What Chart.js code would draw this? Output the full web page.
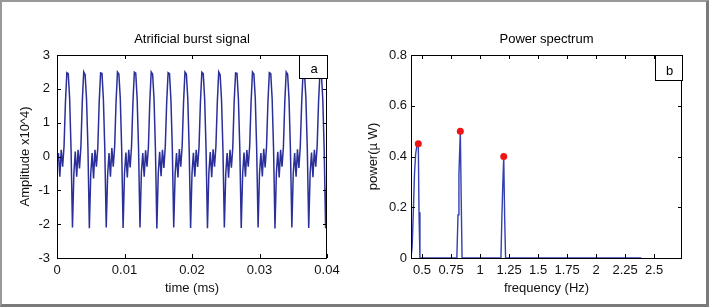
<!DOCTYPE html>
<html>
<head>
<meta charset="utf-8">
<script src="https://cdn.jsdelivr.net/npm/chart.js@4.4.0/dist/chart.umd.min.js"></script>
<style>
body { margin: 0; background: #fff; }
#frame { position: absolute; left: 0; top: 0; width: 709px; height: 307px; box-sizing: border-box;
  border-left: 2px solid #999; border-top: 2px solid #999; border-right: 3px solid #7a7a7a; border-bottom: 3px solid #7a7a7a; }
canvas { position: absolute; top: 0; }
#burst { left: 0; }
#spectrum { left: 355px; }
</style>
</head>
<body>
<div id="frame"></div>
<canvas id="burst" width="355" height="307"></canvas>
<canvas id="spectrum" width="354" height="307"></canvas>
<script>
// burst signal, 12 samples per 0.0025 ms period
var sampleStep = 0.0025 / 12;
var burstAmp = [
	-0.2, 0.1, -0.6, 0.2, -0.3, 0.3, 1.6, 2.48, 2.45, 1.7, 0.2, -2.1,
	-0.5, 0.15, -0.6, 0.2, -0.35, 0.3, 1.65, 2.5, 2.42, 1.7, 0.25, -2.12,
	-0.5, 0.1, -0.65, 0.2, -0.3, 0.25, 1.6, 2.47, 2.45, 1.68, 0.2, -2.1,
	-0.55, 0.1, -0.6, 0.25, -0.3, 0.3, 1.62, 2.5, 2.44, 1.72, 0.2, -2.11,
	-0.5, 0.12, -0.62, 0.2, -0.32, 0.3, 1.6, 2.49, 2.46, 1.7, 0.22, -2.1,
	-0.48, 0.1, -0.6, 0.18, -0.3, 0.28, 1.63, 2.5, 2.43, 1.7, 0.2, -2.13,
	-0.5, 0.14, -0.58, 0.2, -0.34, 0.3, 1.6, 2.48, 2.45, 1.69, 0.24, -2.1,
	-0.52, 0.1, -0.62, 0.22, -0.3, 0.31, 1.61, 2.5, 2.44, 1.71, 0.2, -2.11,
	-0.5, 0.11, -0.6, 0.2, -0.31, 0.29, 1.62, 2.49, 2.45, 1.7, 0.21, -2.12,
	-0.47, 0.13, -0.61, 0.21, -0.3, 0.3, 1.6, 2.5, 2.42, 1.68, 0.2, -2.1,
	-0.5, 0.1, -0.63, 0.2, -0.33, 0.27, 1.64, 2.47, 2.46, 1.7, 0.23, -2.11,
	-0.53, 0.12, -0.6, 0.19, -0.3, 0.3, 1.6, 2.5, 2.44, 1.72, 0.2, -2.1,
	-0.5, 0.1, -0.59, 0.23, -0.32, 0.3, 1.61, 2.48, 2.45, 1.7, 0.22, -2.13,
	-0.49, 0.14, -0.62, 0.2, -0.3, 0.28, 1.63, 2.5, 2.43, 1.69, 0.2, -2.1,
	-0.51, 0.1, -0.6, 0.21, -0.34, 0.3, 1.6, 2.49, 2.46, 1.71, 0.21, -2.11,
	-0.5, 0.12, -0.61, 0.2, -0.3, 0.31, 1.62, 2.5, 2.44, 1.7, 0.2, -2.12,
	-0.5
];
var timeTicks = [0, 0.01, 0.02, 0.03, 0.04];
var timeLabels = ["0", "0.01", "0.02", "0.03", "0.04"];
var ampTicks = [-3, -2, -1, 0, 1, 2, 3];
var ampLabels = ["-3", "-2", "-1", "0", "1", "2", "3"];

// power spectrum
var specFreq = [0.405, 0.415, 0.425, 0.435, 0.445, 0.455, 0.468, 0.474, 0.482,
	0.80, 0.81, 0.818, 0.83, 0.837, 0.845,
	1.18, 1.188, 1.196, 1.204, 1.212, 1.22, 2.39];
var specPower = [0, 0.045, 0.18, 0.33, 0.41, 0.44, 0.45, 0.18, 0,
	0, 0.17, 0.33, 0.5, 0.25, 0,
	0, 0.16, 0.29, 0.4, 0.16, 0, 0];
var peakFreq = [0.468, 0.83, 1.204];
var peakPower = [0.45, 0.5, 0.4];
var freqTicks = [0.5, 0.75, 1, 1.25, 1.5, 1.75, 2, 2.25, 2.5];
var freqLabels = ["0.5", "0.75", "1", "1.25", "1.5", "1.75", "2", "2.25", "2.5"];
var powerTicks = [0, 0.2, 0.4, 0.6, 0.8];
var powerLabels = ["0", "0.2", "0.4", "0.6", "0.8"];

var FONT = '"Liberation Sans", Arial, sans-serif';

// matlab style box: frame, inward ticks, title and the little tag box
var boxPlugin = {
	id: 'matBox',
	afterDraw: function(chart, args, opts) {
		var ctx = chart.ctx, a = chart.chartArea;
		var x = chart.scales.x, y = chart.scales.y;
		ctx.save();
		ctx.strokeStyle = '#000';
		ctx.lineWidth = 1;
		ctx.beginPath();
		x.ticks.forEach(function(t) {
			var px = Math.round(x.getPixelForValue(t.value)) + 0.5;
			ctx.moveTo(px, a.bottom); ctx.lineTo(px, a.bottom - 4);
			ctx.moveTo(px, a.top); ctx.lineTo(px, a.top + 4);
		});
		y.ticks.forEach(function(t) {
			var py = Math.round(y.getPixelForValue(t.value)) + 0.5;
			ctx.moveTo(a.left, py); ctx.lineTo(a.left + 4, py);
			ctx.moveTo(a.right, py); ctx.lineTo(a.right - 4, py);
		});
		ctx.stroke();
		ctx.strokeRect(Math.round(a.left) + 0.5, Math.round(a.top) + 0.5, Math.round(a.width) - 1, Math.round(a.height));

		// tag box
		var bx = Math.round(a.right) - opts.tagW, by = Math.round(a.top);
		ctx.fillStyle = '#fff';
		ctx.fillRect(bx + 0.5, by + 0.5, opts.tagW, opts.tagH);
		ctx.strokeRect(bx + 0.5, by + 0.5, opts.tagW, opts.tagH);
		ctx.fillStyle = '#000';
		ctx.font = '13px ' + FONT;
		ctx.textAlign = 'center';
		ctx.textBaseline = 'alphabetic';
		ctx.fillText(opts.tag, bx + opts.tagW / 2 + 1, by + opts.tagH - 5);

		// title
		ctx.fillText(opts.title, (a.left + a.right) / 2, 43);
		ctx.restore();
	}
};

function setTicks(values) {
	return function(scale) {
		scale.ticks = values.map(function(v) { return {value: v}; });
	};
}

function labelFrom(labels) {
	return function(value, index) { return labels[index]; };
}

function axisX(min, max, tickValues, tickLabels, title) {
	return {
		type: 'linear', min: min, max: max,
		grid: {display: false, drawTicks: false}, border: {display: false},
		afterBuildTicks: setTicks(tickValues),
		afterFit: function(s) { s.height = 49; },
		ticks: {autoSkip: false, maxRotation: 0, padding: 5, color: '#111',
			font: {family: FONT, size: 13}, callback: labelFrom(tickLabels)},
		title: {display: true, text: title, color: '#111',
			font: {family: FONT, size: 13}, padding: {top: 0, bottom: 11}}
	};
}

function axisY(min, max, tickValues, tickLabels, title, width, pad, titlePad) {
	return {
		type: 'linear', min: min, max: max,
		grid: {display: false, drawTicks: false}, border: {display: false},
		afterBuildTicks: setTicks(tickValues),
		afterFit: function(s) { s.width = width; },
		ticks: {autoSkip: false, padding: pad, color: '#111',
			font: {family: FONT, size: 13}, callback: labelFrom(tickLabels)},
		title: {display: true, text: title, color: '#111',
			font: {family: FONT, size: 13}, padding: {top: titlePad, bottom: 0}}
	};
}

var burstPoints = burstAmp.map(function(v, i) { return {x: i * sampleStep, y: v}; });

new Chart(document.getElementById('burst'), {
	type: 'line',
	data: {
		datasets: [{
			data: burstPoints,
			borderColor: '#2a2f9a',
			borderWidth: 1.5,
			pointRadius: 0,
			tension: 0
		}]
	},
	options: {
		responsive: false,
		animation: false,
		devicePixelRatio: 1,
		layout: {padding: {top: 55, right: 28, bottom: 0, left: 0}},
		scales: {
			x: axisX(0, 0.04, timeTicks, timeLabels, 'time (ms)'),
			y: axisY(-3, 3, ampTicks, ampLabels, 'Amplitude x10^4)', 57, 7, 17.5)
		},
		plugins: {
			legend: {display: false},
			tooltip: {enabled: false},
			matBox: {title: 'Atrificial burst signal', tag: 'a', tagW: 28, tagH: 23}
		}
	},
	plugins: [boxPlugin]
});

var specPoints = specFreq.map(function(f, i) { return {x: f, y: specPower[i]}; });
var peakPoints = peakFreq.map(function(f, i) { return {x: f, y: peakPower[i]}; });

new Chart(document.getElementById('spectrum'), {
	type: 'line',
	data: {
		datasets: [{
			data: peakPoints,
			showLine: false,
			pointRadius: 3.5,
			pointBackgroundColor: '#f01414',
			pointBorderColor: '#f01414',
			borderWidth: 0
		}, {
			data: specPoints,
			borderColor: '#3340b0',
			borderWidth: 1.4,
			pointRadius: 0,
			tension: 0
		}]
	},
	options: {
		responsive: false,
		animation: false,
		devicePixelRatio: 1,
		layout: {padding: {top: 55, right: 27, bottom: 0, left: 0}},
		scales: {
			x: axisX(0.405, 2.74, freqTicks, freqLabels, 'frequency (Hz)'),
			y: axisY(0, 0.8, powerTicks, powerLabels, 'power(\u00b5 W)', 56, 4, 11)
		},
		plugins: {
			legend: {display: false},
			tooltip: {enabled: false},
			matBox: {title: 'Power spectrum', tag: 'b', tagW: 27, tagH: 25}
		}
	},
	plugins: [boxPlugin]
});
</script>
</body>
</html>
